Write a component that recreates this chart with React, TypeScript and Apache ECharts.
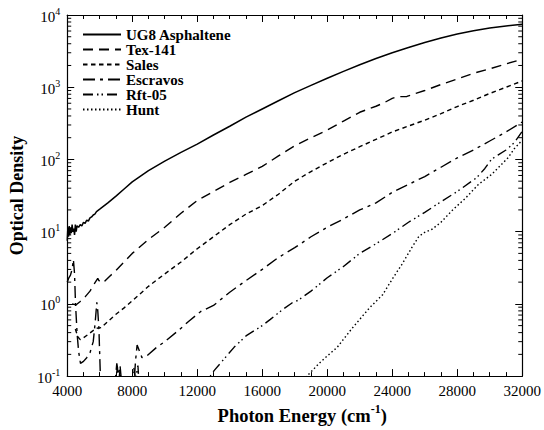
import React, { useEffect, useRef } from 'react';
import * as echarts from 'echarts';

const FONT = '"Liberation Serif", "Times New Roman", serif';

const seriesNames = ['UG8 Asphaltene', 'Tex-141', 'Sales', 'Escravos', 'Rft-05', 'Hunt'];

const xMin = 4000;
const xMax = 32000;
const xInterval = 4000;
const yMin = 0.1;
const yMax = 10000;
const logDecades = [0.1, 1, 10, 100, 1000];
const logMinorMultipliers = [2, 3, 4, 5, 6, 7, 8, 9];

const ug8: [number, number][] = [
  [4000, 7.5], [4040, 11.5], [4080, 8.5], [4120, 12], [4160, 9], [4200, 11.5], [4250, 9.5],
  [4300, 12.5], [4350, 10], [4400, 11], [4450, 9], [4500, 12.5], [4550, 10], [4600, 12],
  [4700, 11.5], [4800, 12.5], [4900, 12], [5000, 13.5], [5100, 13], [5200, 14.5], [5300, 14],
  [5400, 15.5], [5500, 16], [5600, 17], [5700, 17.5], [5800, 19], [6000, 20.5], [6500, 25],
  [7000, 31], [7500, 39], [8000, 49], [9000, 70], [10000, 95], [11000, 125], [12000, 163],
  [13000, 218], [14000, 288], [15000, 385], [16000, 500], [17000, 650], [18000, 840],
  [19000, 1060], [20000, 1330], [21000, 1660], [22000, 2050], [23000, 2500], [24000, 3000],
  [25000, 3550], [26000, 4150], [27000, 4800], [28000, 5450], [29000, 6050], [30000, 6600],
  [31000, 7050], [32000, 7450],
];

const tex141: [number, number][] = [
  [4300, 1.0], [4550, 0.97], [4800, 1.08], [5100, 1.25], [5400, 1.5], [5700, 1.95],
  [5880, 2.25], [5950, 2.1], [6100, 1.95], [6300, 2.05], [6600, 2.4], [7000, 2.9],
  [7500, 3.8], [8000, 5.0], [9000, 7.8], [10000, 11.5], [11000, 18], [12000, 27],
  [13000, 36], [14000, 48], [15000, 62], [16000, 80], [17000, 112], [18000, 155],
  [19000, 200], [20000, 255], [21000, 340], [22000, 450], [23000, 545], [23500, 610],
  [24000, 700], [24300, 740], [24900, 745], [25500, 830], [26000, 900], [27000, 1090],
  [28000, 1300], [29000, 1560], [30000, 1800], [31000, 2100], [32000, 2450],
];

const sales: [number, number][] = [
  [4500, 0.45], [4650, 0.35], [4800, 0.32], [5000, 0.34], [5300, 0.38], [5550, 0.42],
  [5800, 0.46], [6100, 0.47], [6500, 0.57], [7000, 0.72], [7500, 0.88], [8000, 1.1],
  [9000, 1.75], [10000, 2.6], [11000, 3.8], [12000, 5.8], [13000, 8.5], [14000, 12.5],
  [15000, 17.5], [16000, 23], [17000, 33], [18000, 50], [19000, 68], [20000, 90],
  [21000, 118], [22000, 150], [23000, 190], [24000, 240], [25000, 290], [26000, 350],
  [27000, 430], [28000, 540], [29000, 660], [30000, 820], [31000, 1000], [32000, 1220],
];

const escravos: [number, number][] = [
  [4000, 2.0], [4100, 2.3], [4200, 2.5], [4300, 3.0], [4380, 4.1], [4450, 2.6], [4510, 1.0],
  [4610, 0.38], [4700, 0.22], [4815, 0.15], [5000, 0.16], [5200, 0.18], [5400, 0.21],
  [5600, 0.3], [5720, 0.55], [5820, 1.05], [5880, 0.8], [5950, 0.45], [6040, 0.1],
  [6120, 0.05], [6900, 0.06], [7050, 0.15], [7150, 0.11], [7250, 0.14], [7400, 0.06],
  [8100, 0.07], [8200, 0.16], [8300, 0.27], [8420, 0.23], [8600, 0.18], [8900, 0.19],
  [9500, 0.25], [10000, 0.3], [10800, 0.42], [11500, 0.58], [12200, 0.78], [13000, 0.95],
  [14000, 1.45], [15000, 2.1], [16000, 3.0], [17000, 4.4], [18000, 6.0], [19000, 8.5],
  [20000, 11.5], [21000, 15], [22000, 20], [23000, 25], [24000, 35], [25000, 45],
  [26000, 58], [27000, 78], [28000, 105], [29000, 135], [30000, 180], [31000, 240],
  [32000, 330],
];

const rft05: [number, number][] = [
  [4000, 0.05], [6900, 0.05], [7000, 0.09], [7080, 0.13], [7150, 0.08], [7250, 0.12],
  [7350, 0.05], [7900, 0.06], [8000, 0.1], [8100, 0.13], [8200, 0.09], [8350, 0.14],
  [8450, 0.06], [9000, 0.04], [12000, 0.06], [12800, 0.1], [13050, 0.12], [14265, 0.25],
  [15000, 0.36], [16000, 0.5], [16500, 0.61], [17300, 0.85], [17830, 1.03], [18200, 1.12],
  [19000, 1.5], [20000, 2.3], [21000, 3.3], [22000, 5.0], [23000, 6.8], [24000, 9.4],
  [25000, 13.5], [26000, 18.5], [27000, 26], [28000, 36], [29200, 56], [29700, 75],
  [30100, 100], [30500, 115], [31000, 135], [31500, 170], [32000, 245],
];

const hunt: [number, number][] = [
  [17500, 0.05], [18875, 0.107], [19500, 0.15], [20000, 0.19], [20610, 0.25], [21500, 0.45],
  [22600, 0.88], [23410, 1.34], [24000, 2.2], [24620, 3.6], [25200, 6.0], [25640, 8.6],
  [26000, 9.8], [26450, 10.8], [27000, 13.5], [27670, 19.5], [28500, 29], [29300, 45],
  [30115, 62], [30600, 80], [31135, 106], [31500, 140], [32000, 185],
];

const seriesData = [ug8, tex141, sales, escravos, rft05, hunt];
const dashPatterns: (number[] | 'solid')[] = [
  'solid',
  [10, 6],
  [4.5, 3.5],
  [12, 5, 3, 5],
  [10, 4, 1.5, 3, 1.5, 4],
  [1.5, 2.5],
];

export default function App() {
  const ref = useRef<HTMLDivElement>(null);
  useEffect(() => {
    if (!ref.current) return;
    const chart = echarts.init(ref.current, null, { renderer: 'svg' });

    const minorVals: number[][] = [];
    logDecades.forEach((d) => logMinorMultipliers.forEach((m) => minorVals.push([xMin, d * m])));

    const lineSeries = seriesNames.map((name, i) => ({
      name,
      type: 'line',
      data: seriesData[i],
      symbol: 'none',
      showSymbol: false,
      clip: true,
      z: 3,
      lineStyle: { color: '#000', width: i === 0 ? 1.5 : 1.4, type: dashPatterns[i] },
      itemStyle: { color: '#000' },
    }));

    const tickStyle = { color: '#000', width: 1 };

    chart.setOption({
      animation: false,
      backgroundColor: '#fff',
      grid: { left: 65, right: 20, top: 15, bottom: 52, containLabel: false },
      legend: {
        data: seriesNames,
        orient: 'vertical',
        left: 82,
        top: 27,
        padding: 0,
        itemWidth: 38,
        itemHeight: 10,
        itemGap: 0,
        itemStyle: { color: 'rgba(0,0,0,0)', borderColor: 'rgba(0,0,0,0)', borderWidth: 0, opacity: 0 },
        textStyle: { fontFamily: FONT, fontWeight: 'bold', fontSize: 15, color: '#000', lineHeight: 15, height: 15 },
        selectedMode: false,
      },
      xAxis: [
        {
          type: 'value',
          min: xMin,
          max: xMax,
          interval: xInterval,
          position: 'bottom',
          name: '{n|Photon Energy (cm}{s|-1}{n|)}',
          nameLocation: 'middle',
          nameGap: 26,
          nameTextStyle: {
            padding: [0, 0, 0, 15],
            rich: {
              n: { fontFamily: FONT, fontWeight: 'bold', fontSize: 18.5, color: '#000', lineHeight: 22, verticalAlign: 'bottom' },
              s: { fontFamily: FONT, fontWeight: 'bold', fontSize: 12, color: '#000', lineHeight: 22, verticalAlign: 'top' },
            },
          },
          axisLine: { show: true, onZero: false, lineStyle: { color: '#000', width: 1.2 } },
          axisTick: { show: true, inside: true, length: 7, lineStyle: tickStyle },
          minorTick: { show: true, splitNumber: 4, length: 4, lineStyle: tickStyle },
          splitLine: { show: false },
          axisLabel: { fontFamily: FONT, fontSize: 15, color: '#000', margin: 7, formatter: (v: number) => String(v) },
        },
        {
          type: 'value',
          min: xMin,
          max: xMax,
          interval: xInterval,
          position: 'top',
          axisLine: { show: true, onZero: false, lineStyle: { color: '#000', width: 1.2 } },
          axisTick: { show: true, inside: true, length: 7, lineStyle: tickStyle },
          minorTick: { show: true, splitNumber: 4, length: 4, lineStyle: tickStyle },
          splitLine: { show: false },
          axisLabel: { show: false },
        },
      ],
      yAxis: [
        {
          type: 'log',
          logBase: 10,
          min: yMin,
          max: yMax,
          position: 'left',
          name: 'Optical Density',
          nameLocation: 'middle',
          nameGap: 40,
          nameTextStyle: { fontFamily: FONT, fontWeight: 'bold', fontSize: 18, color: '#000' },
          axisLine: { show: true, onZero: false, lineStyle: { color: '#000', width: 1.2 } },
          axisTick: { show: true, inside: true, length: 7, lineStyle: tickStyle },
          minorTick: { show: false },
          splitLine: { show: false },
          axisLabel: {
            margin: 7,
            formatter: (v: number) => `{b|10}{s|${Math.round(Math.log10(v))}}`,
            rich: {
              b: { fontFamily: FONT, fontSize: 15, color: '#000', lineHeight: 18, verticalAlign: 'bottom' },
              s: { fontFamily: FONT, fontSize: 10, color: '#000', lineHeight: 18, verticalAlign: 'top' },
            },
          },
        },
        {
          type: 'log',
          logBase: 10,
          min: yMin,
          max: yMax,
          position: 'right',
          axisLine: { show: true, onZero: false, lineStyle: { color: '#000', width: 1.2 } },
          axisTick: { show: true, inside: true, length: 7, lineStyle: tickStyle },
          minorTick: { show: false },
          splitLine: { show: false },
          axisLabel: { show: false },
        },
      ],
      series: [
        ...lineSeries,
        {
          name: 'logMinorTicks',
          type: 'custom',
          silent: true,
          z: 4,
          data: minorVals,
          encode: { x: 0, y: 1 },
          renderItem: (_params: any, api: any) => {
            const v = api.value(1);
            const pl = api.coord([xMin, v]);
            const pr = api.coord([xMax, v]);
            return {
              type: 'group',
              children: [
                { type: 'line', shape: { x1: pl[0], y1: pl[1], x2: pl[0] + 4, y2: pl[1] }, style: { stroke: '#000', lineWidth: 1 } },
                { type: 'line', shape: { x1: pr[0], y1: pr[1], x2: pr[0] - 4, y2: pr[1] }, style: { stroke: '#000', lineWidth: 1 } },
              ],
            };
          },
        },
      ],
    });
    return () => chart.dispose();
  }, []);
  return <div ref={ref} style={{ position: 'fixed', left: 0, top: 0, width: 544, height: 430 }} />;
}
